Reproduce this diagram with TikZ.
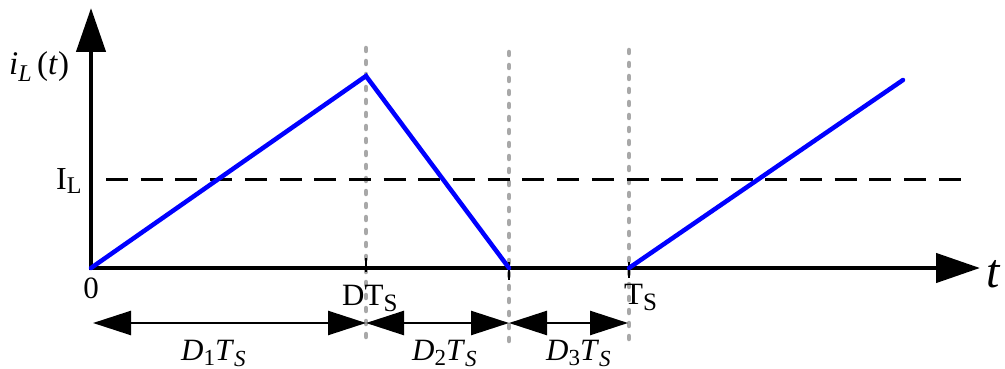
\documentclass[tikz,border=0pt]{standalone}
\usepackage{fontspec}
\setmainfont{Liberation Serif}
\usetikzlibrary{arrows.meta}
\newcommand{\fs}[1]{\fontsize{#1}{#1}\selectfont}
\newcommand{\lowsub}[3]{\raisebox{-#1pt}{\fs{#2}#3}}
\definecolor{guidegray}{HTML}{A8A8A8}
\begin{document}
\begin{tikzpicture}[x=1pt,y=-1pt,
 axis/.style={line width=4.5pt, -{Triangle[length=44pt,width=29pt]}},
 guide/.style={draw=guidegray, line width=4.5pt, line cap=round, dash pattern=on 3pt off 10pt},
 wave/.style={draw=blue, line width=4.5pt, line cap=round, line join=miter},
 lvl/.style={line width=3pt, dash pattern=on 22pt off 12.7pt},
 tickmark/.style={line width=2pt},
 span/.style={line width=2.5pt, {Triangle[length=38pt,width=24pt]}-{Triangle[length=38pt,width=24pt]}},
 lbl/.style={inner sep=0pt, font=\fs{31}},
]
\useasboundingbox (0,0) rectangle (1005,369);
% coordinates
\coordinate (O) at (91,268);
\coordinate (Ytop) at (91,8);
\coordinate (Xend) at (980,268);
\coordinate (A) at (366,268);
\coordinate (B) at (509,268);
\coordinate (C) at (629,268);
\coordinate (P) at (366,76);
\coordinate (E) at (903,80);
\coordinate (gAt) at (366,48);  \coordinate (gAb) at (366,343);
\coordinate (gBt) at (509,52);  \coordinate (gBb) at (509,348);
\coordinate (gCt) at (629,50);  \coordinate (gCb) at (629,343);
\coordinate (L0) at (106,179);  \coordinate (L1) at (961,179);
\coordinate (a0) at (93,323);
\coordinate (a1) at (366,323);
\coordinate (a2) at (509,323);
\coordinate (a3) at (628,323);
% guides
\draw[guide] (gAt) -- (gAb);
\draw[guide] (gBt) -- (gBb);
\draw[guide] (gCt) -- (gCb);
% level
\draw[lvl] (L0) -- (L1);
% axes
\draw[axis] ([xshift=-2.25pt]O) -- (Xend);
\draw[axis] ([yshift=-2.25pt]O) -- (Ytop);
% ticks
\draw[tickmark] (366,258) -- (366,272);
\draw[tickmark] (509,262) -- (509,280);
\draw[tickmark] (629,262) -- (629,278);
% waveform
\draw[wave] (O) -- (P) -- (B);
\draw[wave] (C) -- (E);
% spans
\draw[span] (a0) -- (a1);
\draw[span] (a1) -- (a2);
\draw[span] (a2) -- (a3);
% labels
\node[lbl, anchor=base west] (iL) at (9,75) {\fs{33}\textit{i}\lowsub{6}{24}{\textit{L}}\,(\textit{t})};
\node[lbl, anchor=base west] (IL) at (56,189) {\fs{32}I\lowsub{4}{24}{L}};
\node[lbl, anchor=base] (zero) at (91,298) {0};
\node[lbl, anchor=base west] (DTS) at (342,305) {DT\lowsub{6}{25}{S}};
\node[lbl, anchor=base west] (TS) at (624,304) {T\lowsub{6}{25}{S}};
\node[lbl, anchor=base west] (tl) at (986,287) {\fs{48}\textit{t}};
\node[lbl, anchor=base west] (d1) at (181,360) {\textit{D}\lowsub{5}{23}{1}\textit{T}\lowsub{6}{23}{\textit{S}}};
\node[lbl, anchor=base west] (d2) at (412,360) {\textit{D}\lowsub{5}{23}{2}\textit{T}\lowsub{6}{23}{\textit{S}}};
\node[lbl, anchor=base west] (d3) at (546,360) {\textit{D}\lowsub{5}{23}{3}\textit{T}\lowsub{6}{23}{\textit{S}}};
\end{tikzpicture}
\end{document}
